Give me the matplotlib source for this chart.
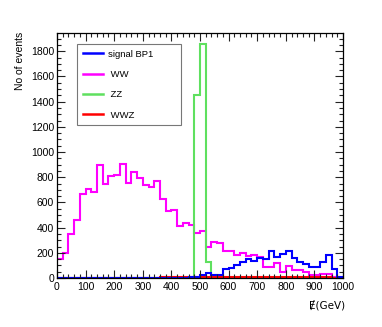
import numpy as np
import matplotlib
matplotlib.use("Agg")
import matplotlib.pyplot as plt
from matplotlib.ticker import MultipleLocator

plt.rcParams['font.family'] = ['Liberation Sans', 'DejaVu Sans']

# 50 bins of 20 GeV from 0 to 1000
edges = np.arange(0, 1001, 20)

ww = [149, 197, 348, 460, 667, 707, 686, 896, 747, 811,
      819, 907, 753, 840, 790, 739, 726, 771, 628, 532,
      543, 412, 440, 418, 354, 372, 250, 288, 280, 215,
      215, 182, 196, 175, 180, 165, 90, 85, 118, 50,
      98, 65, 65, 45, 25, 25, 30, 30, 5, 0]

signal = [0, 0, 0, 0, 0, 0, 0, 0, 0, 0,
          0, 0, 0, 0, 0, 0, 0, 0, 0, 0,
          0, 0, 2, 4, 8, 24, 37, 24, 22, 74,
          76, 103, 130, 150, 135, 161, 148, 217, 169, 190,
          217, 161, 127, 108, 85, 85, 127, 182, 74, 10]

zz = [0, 0, 0, 0, 0, 0, 0, 0, 0, 0,
      0, 0, 0, 0, 0, 0, 0, 0, 0, 0,
      0, 0, 0, 0, 1455, 1858, 130, 22, 0, 0,
      0, 0, 0, 0, 0, 0, 0, 0, 0, 0,
      0, 0, 0, 0, 0, 0, 0, 0, 0, 0]

wwz = [0, 0, 0, 0, 0, 0, 0, 0, 0, 0,
       1, 1, 2, 2, 2, 3, 3, 3, 4, 4,
       5, 5, 6, 6, 6, 6, 6, 6, 6, 6,
       6, 6, 6, 6, 6, 6, 6, 6, 6, 5,
       5, 5, 5, 5, 4, 4, 4, 4, 3, 0]

fig = plt.figure(figsize=(3.82, 3.27), dpi=100)
ax = fig.add_axes([57/382, 49/327, 286/382, 245/327])

ax.stairs(ww, edges, baseline=None, color='#ff00ff', lw=1.5, label=' WW')
ax.stairs(zz, edges, baseline=None, color='#5fe05f', lw=1.5, label=' ZZ')
ax.stairs(wwz, edges, baseline=None, color='#ff0000', lw=1.5, label=' WWZ')
ax.stairs(signal, edges, baseline=None, color='#0000ff', lw=1.5, label='signal BP1')

ax.set_xlim(0, 1000)
ax.set_ylim(0, 1945)

ax.xaxis.set_major_locator(MultipleLocator(100))
ax.xaxis.set_minor_locator(MultipleLocator(20))
ax.yaxis.set_major_locator(MultipleLocator(200))
ax.yaxis.set_minor_locator(MultipleLocator(50))
ax.tick_params(which='both', direction='in', top=True, right=True,
               labelsize=7.5, width=0.8, color='#222222')
ax.tick_params(axis='x', which='major', length=6, pad=3)
ax.tick_params(axis='y', which='major', length=6, pad=2)
ax.tick_params(which='minor', length=3)
for s in ax.spines.values():
    s.set_linewidth(0.9)

fig.text(20/382, 1 - 32/327, 'No of events', rotation=90, ha='center', va='top', fontsize=7.5)
fig.text(345/382, 1 - 305/327, '\u0246(GeV)', ha='right', va='center', fontsize=7.5,
         family=['DejaVu Sans'])

# legend in the order shown
h, l = ax.get_legend_handles_labels()
order = [3, 0, 1, 2]
leg = ax.legend([h[i] for i in order], [l[i] for i in order],
                loc='upper left', bbox_to_anchor=(20/286, 1 - 88/245, 104/286, 77/245),
                mode='expand', fontsize=6.8, frameon=True, fancybox=False,
                edgecolor='#555555', handlelength=2.2, handletextpad=0.5,
                labelspacing=1.2, borderpad=0.6, borderaxespad=0)
leg.get_frame().set_linewidth(0.8)
for line in leg.get_lines():
    line.set_linewidth(1.8)

fig.savefig('out.png', dpi=100)
